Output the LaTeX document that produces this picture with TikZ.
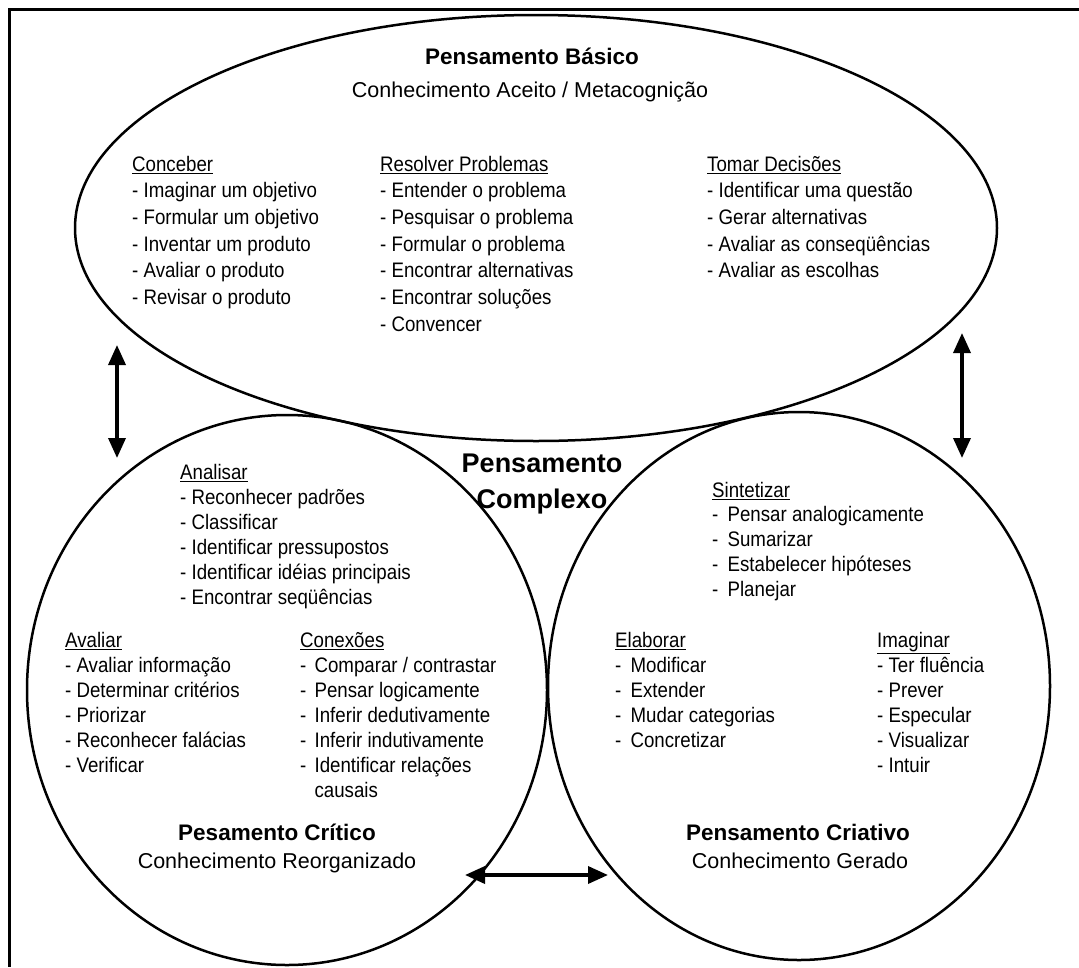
\documentclass[tikz,border=0pt]{standalone}
\usepackage{fontspec}
\setmainfont{Liberation Sans}
\newfontfamily\itemfont[FakeStretch=0.89]{Liberation Sans}
\usepackage{tikz}
\usetikzlibrary{arrows.meta,shapes.geometric}

\begin{document}
\begin{tikzpicture}[x=1pt,y=-1pt,>={Triangle[length=20pt,width=17pt]},
  area/.style={ellipse,draw,line width=2.5pt,inner sep=0pt},
  area head/.style={anchor=base,font=\bfseries\fontsize{22.5}{27}\selectfont},
  area sub/.style={anchor=base,font=\fontsize{21.5}{26}\selectfont},
  skill list/.style={align=left,anchor=north west,inner sep=0pt},
  link/.style={<->,line width=3.5pt}]
  \useasboundingbox (0,0) rectangle (1079,967);
  \draw[line width=3pt] (1079,9) -- (9.5,9) -- (9.5,967);

  % the three areas
  \node[area, minimum width=922pt, minimum height=426pt] (basico) at (536,228) {};
  \node[area, minimum width=520pt, minimum height=550pt] (critico) at (287,690) {};
  \node[area, minimum width=502pt, minimum height=548pt] (criativo) at (799,686) {};

  % pensamento basico
  \node[area head] (basico_t) at (532,64) {Pensamento Básico};
  \node[area sub] (basico_s) at (530,97) {Conhecimento Aceito / Metacognição};
  \node[skill list, font=\itemfont\fontsize{21}{26.7}\selectfont] (conceber) at (132,152.3)
    {\strut\underline{Conceber}\\- Imaginar um objetivo\\- Formular um objetivo\\
     - Inventar um produto\\- Avaliar o produto\\- Revisar o produto};
  \node[skill list, font=\itemfont\fontsize{21}{26.7}\selectfont] (resolver) at (380,152.3)
    {\strut\underline{Resolver Problemas}\\- Entender o problema\\- Pesquisar o problema\\
     - Formular o problema\\- Encontrar alternativas\\- Encontrar soluções\\- Convencer};
  \node[skill list, font=\itemfont\fontsize{21}{26.7}\selectfont] (decidir) at (707,152.3)
    {\strut\underline{Tomar Decisões}\\- Identificar uma questão\\- Gerar alternativas\\
     - Avaliar as conseqüências\\- Avaliar as escolhas};

  % pensamento critico
  \node[skill list, font=\itemfont\fontsize{21}{25}\selectfont] (analisar) at (180,461.5)
    {\strut\underline{Analisar}\\- Reconhecer padrões\\- Classificar\\- Identificar pressupostos\\
     - Identificar idéias principais\\- Encontrar seqüências};
  \node[skill list, font=\itemfont\fontsize{21}{25}\selectfont] (avaliar) at (65,629.5)
    {\strut\underline{Avaliar}\\- Avaliar informação\\- Determinar critérios\\- Priorizar\\
     - Reconhecer falácias\\- Verificar};
  \node[skill list, font=\itemfont\fontsize{21}{25}\selectfont] (conexoes) at (300,629.5)
    {\strut\underline{Conexões}\\-\kern3pt\ Comparar / contrastar\\-\kern3pt\ Pensar logicamente\\
     -\kern3pt\ Inferir dedutivamente\\-\kern3pt\ Inferir indutivamente\\-\kern3pt\ Identificar relações\\
     \hphantom{-\kern3pt\ }causais};
  \node[area head] (critico_t) at (277,840) {Pesamento Crítico};
  \node[area sub] (critico_s) at (277,868) {Conhecimento Reorganizado};

  % pensamento criativo
  \node[skill list, font=\itemfont\fontsize{21}{24.7}\selectfont] (sintetizar) at (712,479.7)
    {\strut\underline{Sintetizar}\\-\kern4pt\ Pensar analogicamente\\-\kern4pt\ Sumarizar\\
     -\kern4pt\ Estabelecer hipóteses\\-\kern4pt\ Planejar};
  \node[skill list, font=\itemfont\fontsize{21}{25}\selectfont] (elaborar) at (615,629.5)
    {\strut\underline{Elaborar}\\-\kern4pt\ Modificar\\-\kern4pt\ Extender\\-\kern4pt\ Mudar categorias\\-\kern4pt\ Concretizar};
  \node[skill list, font=\itemfont\fontsize{21}{25}\selectfont] (imaginar) at (877,629.5)
    {\strut\underline{Imaginar}\\- Ter fluência\\- Prever\\- Especular\\- Visualizar\\- Intuir};
  \node[area head] (criativo_t) at (798,840) {Pensamento Criativo};
  \node[area sub] (criativo_s) at (800,868) {Conhecimento Gerado};

  \node[align=center, font=\bfseries\fontsize{27}{36}\selectfont, anchor=base] (complexo)
    at (542,508) {Pensamento\\Complexo};

  % links
  \coordinate (basico_l) at (117,345);
  \coordinate (critico_u) at (117,458);
  \coordinate (basico_r) at (962,333);
  \coordinate (criativo_u) at (962,458);
  \coordinate (critico_r) at (465,875);
  \coordinate (criativo_l) at (608,875);
  \path[link]
    (basico_l) edge (critico_u)
    (basico_r) edge (criativo_u)
    (critico_r) edge (criativo_l);
\end{tikzpicture}
\end{document}
